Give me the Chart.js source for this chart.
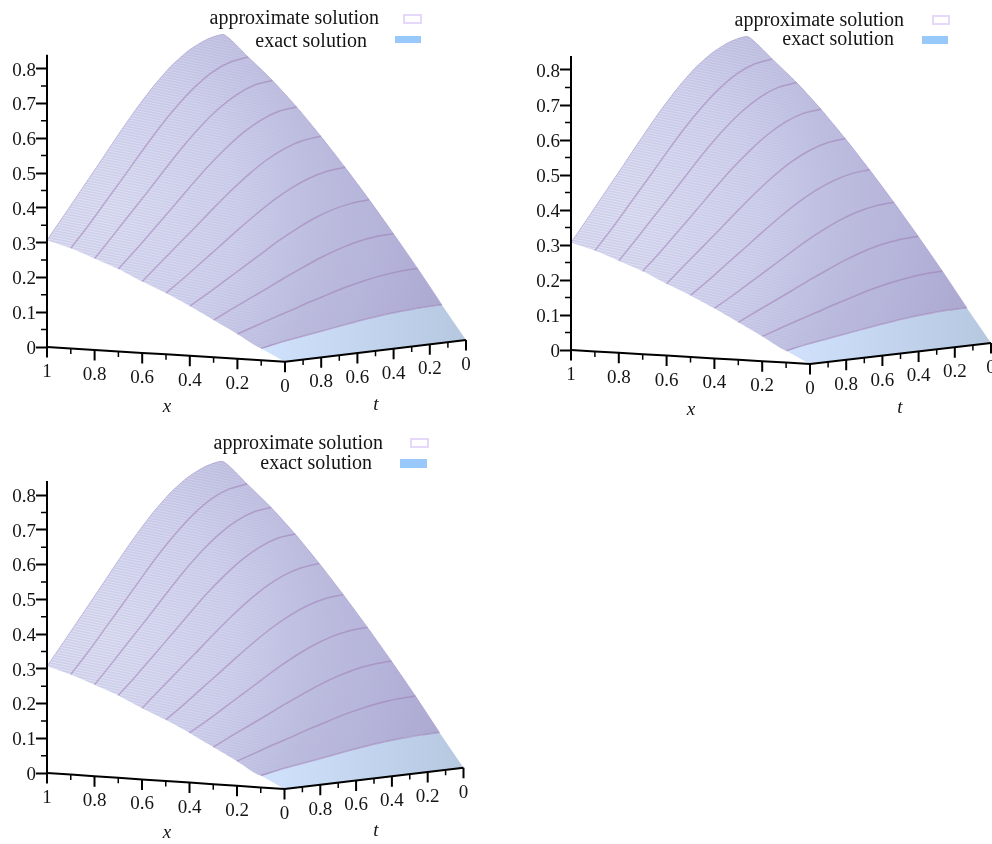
<!DOCTYPE html>
<html>
<head>
<meta charset="utf-8">
<script src="https://cdn.jsdelivr.net/npm/chart.js@4"></script>
<style>
    html, body { margin: 0; padding: 0; background: #fff; overflow: hidden; width: 992px; height: 844px; }
    canvas { position: absolute; }
</style>
</head>
<body>
<script>
// one list per x line, t = 0 ... 1
const tGrid = [0, 0.1, 0.2, 0.3, 0.4, 0.5, 0.6, 0.7, 0.8, 0.9, 1];
const xGrid = [1, 0.9, 0.8, 0.7, 0.6, 0.5, 0.4, 0.3, 0.2, 0.1, 0];
const uX10 = [0.835, 0.827, 0.802, 0.763, 0.711, 0.650, 0.583, 0.513, 0.444, 0.375, 0.307];
const uX09 = [0.775, 0.767, 0.745, 0.708, 0.660, 0.604, 0.541, 0.476, 0.412, 0.348, 0.288];
const uX08 = [0.712, 0.705, 0.684, 0.651, 0.607, 0.555, 0.497, 0.437, 0.379, 0.320, 0.263];
const uX07 = [0.640, 0.634, 0.615, 0.585, 0.545, 0.499, 0.447, 0.393, 0.340, 0.287, 0.237];
const uX06 = [0.560, 0.554, 0.538, 0.512, 0.477, 0.436, 0.391, 0.344, 0.298, 0.252, 0.205];
const uX05 = [0.475, 0.470, 0.456, 0.434, 0.405, 0.370, 0.332, 0.292, 0.253, 0.213, 0.176];
const uX04 = [0.386, 0.382, 0.371, 0.353, 0.329, 0.301, 0.269, 0.237, 0.205, 0.173, 0.143];
const uX03 = [0.293, 0.290, 0.282, 0.268, 0.250, 0.228, 0.205, 0.180, 0.156, 0.132, 0.107];
const uX02 = [0.197, 0.195, 0.189, 0.180, 0.168, 0.153, 0.138, 0.121, 0.105, 0.088, 0.071];
const uX01 = [0.097, 0.096, 0.093, 0.089, 0.083, 0.076, 0.068, 0.060, 0.052, 0.044, 0.034];
const uX00 = [0, 0, 0, 0, 0, 0, 0, 0, 0, 0, 0];
const uLines = [uX10, uX09, uX08, uX07, uX06, uX05, uX04, uX03, uX02, uX01, uX00];

const uTicks = [0, 0.1, 0.2, 0.3, 0.4, 0.5, 0.6, 0.7, 0.8];
const uMinorTicks = [0.05, 0.15, 0.25, 0.35, 0.45, 0.55, 0.65, 0.75];
const uAxisTop = 0.84;
const xMajorTicks = [1, 0.8, 0.6, 0.4, 0.2, 0];
const xMinorTicks = [0.9, 0.7, 0.5, 0.3, 0.1];
const tMajorTicks = [0.8, 0.6, 0.4, 0.2, 0];
const tMinorTicks = [0.9, 0.7, 0.5, 0.3, 0.1];

const legendNames = ["approximate solution", "exact solution"];

const serif = '"Liberation Serif", "Times New Roman", serif';
const axisLeft = 47;

// view of each plot: canvas box and how many px one unit covers
const panels = [
    {
        left: 0, top: 0, width: 490, height: 425,
        zeroY: 347, uPx: 348, xPx: 238, tPx: 181, tSkew: 4, xDrop: 14.7, tRise: 21.7,
        legend: [
            {right: 379, y: 19, box: [404, 15, 17, 8]},
            {right: 367, y: 42, box: [395, 36, 26, 7]}
        ]
    },
    {
        left: 524, top: 0, width: 490, height: 425,
        zeroY: 350, uPx: 350, xPx: 239, tPx: 181, tSkew: 4, xDrop: 14, tRise: 21,
        legend: [
            {right: 904, y: 21, box: [933, 16, 16, 8]},
            {right: 894, y: 40, box: [922, 36, 26, 8]}
        ]
    },
    {
        left: 0, top: 425, width: 490, height: 419,
        zeroY: 348, uPx: 347.5, xPx: 237.5, tPx: 179, tSkew: 3, xDrop: 16, tRise: 21.3,
        legend: [
            {right: 383, y: 444, box: [411, 439, 17, 8]},
            {right: 372, y: 464, box: [400, 459, 27, 9]}
        ]
    }
];

// oblique view, x and t go to the screen, u stays on the value axis
function project(p, x, t, u) {
    return {
        x: (1 - x) * p.xPx + (1 - t) * (p.tPx - x * p.tSkew),
        y: u + (-(1 - x) * p.xDrop + (1 - t) * p.tRise) / p.uPx
    };
}

function xLine(p, i) {
    return tGrid.map((t, j) => project(p, xGrid[i], t, uLines[i][j]));
}

function tLine(p, j, from, to) {
    const out = [];
    for (let i = from; i <= to; i++) out.push(project(p, xGrid[i], tGrid[j], uLines[i][j]));
    return out;
}

function tickMarks(p, list, pointOf, len) {
    const out = [];
    list.forEach(v => {
        const a = pointOf(v);
        out.push(a, {x: a.x, y: a.y - len / p.uPx}, {x: null, y: null});
    });
    return out;
}

function lineSet(data, color, width, tension) {
    return {
        data: data, showLine: true, fill: false, borderColor: color, borderWidth: width,
        pointRadius: 0, tension: tension || 0, clip: false
    };
}

function fillSet(data, color, edge, tension) {
    return {
        data: data, showLine: true, fill: '+1', backgroundColor: color,
        borderColor: edge || 'rgba(0,0,0,0)', borderWidth: edge ? 1 : 0, pointRadius: 0,
        tension: tension
    };
}

function makeHatch(w, h) {
    const c = document.createElement('canvas');
    c.width = w;
    c.height = h;
    const g = c.getContext('2d');
    g.strokeStyle = 'rgba(255,255,255,0.42)';
    g.lineWidth = 1;
    for (let y = -200; y < h; y += 2.7) {
        g.beginPath();
        g.moveTo(0, y);
        g.lineTo(w, y + w * 0.2);
        g.stroke();
    }
    g.globalCompositeOperation = 'destination-in';
    const mask = g.createLinearGradient(axisLeft, 0, 300, 0);
    mask.addColorStop(0, 'rgba(0,0,0,1)');
    mask.addColorStop(0.55, 'rgba(0,0,0,0.55)');
    mask.addColorStop(1, 'rgba(0,0,0,0)');
    g.fillStyle = mask;
    g.fillRect(0, 0, w, h);
    return c;
}

const textPlugin = {
    id: 'plotText',
    afterDraw(chart, args, opts) {
        const p = opts.panel;
        const ctx = chart.ctx;
        const sx = chart.scales.x, sy = chart.scales.y;
        ctx.save();
        ctx.fillStyle = '#151515';
        ctx.font = '19px ' + serif;
        ctx.textAlign = 'center';
        ctx.textBaseline = 'middle';
        xMajorTicks.forEach(v => {
            const a = project(p, v, 1, 0);
            ctx.fillText(String(v), sx.getPixelForValue(a.x), sy.getPixelForValue(a.y) + 25);
        });
        tMajorTicks.forEach(v => {
            const a = project(p, 0, v, 0);
            ctx.fillText(String(v), sx.getPixelForValue(a.x), sy.getPixelForValue(a.y) + 25);
        });
        ctx.font = 'italic 19px ' + serif;
        ctx.fillText('x', axisLeft + 120, p.zeroY + 60);
        ctx.fillText('t', axisLeft + 329, p.zeroY + 58);

        ctx.font = '20px ' + serif;
        ctx.textAlign = 'right';
        p.legend.forEach((row, i) => {
            ctx.fillStyle = '#151515';
            ctx.fillText(legendNames[i], row.right - p.left, row.y - p.top);
            const b = row.box;
            if (i === 0) {
                ctx.strokeStyle = '#e6d8f8';
                ctx.lineWidth = 2;
                ctx.strokeRect(b[0] - p.left, b[1] - p.top, b[2], b[3]);
            } else {
                ctx.fillStyle = '#99c9fb';
                ctx.fillRect(b[0] - p.left, b[1] - p.top, b[2], b[3]);
            }
        });
        ctx.restore();
    }
};

panels.forEach(p => {
    const canvas = document.createElement('canvas');
    canvas.width = p.width;
    canvas.height = p.height;
    canvas.style.left = p.left + 'px';
    canvas.style.top = p.top + 'px';
    document.body.appendChild(canvas);
    const ctx = canvas.getContext('2d');

    // lit from the left, darker toward the peak and the far corner
    const cx = axisLeft + 63, cy = p.zeroY - 137;
    const purple = ctx.createRadialGradient(cx, cy, 0, cx, cy, 340);
    purple.addColorStop(0, '#d0d2ec');
    purple.addColorStop(0.38, '#c8c9e8');
    purple.addColorStop(0.62, '#bcbcdf');
    purple.addColorStop(1, '#adaad2');

    const blue = ctx.createLinearGradient(265, 0, 466, 0);
    blue.addColorStop(0, '#d0e1fc');
    blue.addColorStop(1, '#b6c8e0');

    const hatch = ctx.createPattern(makeHatch(p.width, p.height), 'no-repeat');

    const surfaceTop = tGrid.map((t, j) => project(p, 1, tGrid[10 - j], uX10[10 - j]))
        .concat(tLine(p, 0, 1, 9));
    const surfaceLow = tLine(p, 10, 0, 9).concat(xLine(p, 9).reverse().slice(1));
    const bandTop = xLine(p, 9).reverse().concat(tLine(p, 0, 10, 10));
    const bandLow = tLine(p, 10, 9, 10).concat(xLine(p, 10).reverse().slice(1));

    const xAxisLine = xGrid.map(x => project(p, x, 1, 0)).concat(project(p, 0, 0, 0));
    const uAxisLine = [{x: 0, y: 0}, {x: 0, y: uAxisTop}];
    const uMinor = [];
    uMinorTicks.forEach(v => uMinor.push({x: -6, y: v}, {x: 0, y: v}, {x: null, y: null}));

    const datasets = [
        lineSet(xAxisLine, '#000', 2),
        lineSet(uAxisLine, '#000', 2),
        lineSet(uMinor, '#000', 1.5),
        lineSet(tickMarks(p, xMajorTicks, v => project(p, v, 1, 0), 10.5), '#000', 2),
        lineSet(tickMarks(p, xMinorTicks, v => project(p, v, 1, 0), 5.5), '#000', 1.5),
        lineSet(tickMarks(p, tMajorTicks, v => project(p, 0, v, 0), 10.5), '#000', 2),
        lineSet(tickMarks(p, tMinorTicks, v => project(p, 0, v, 0), 5.5), '#000', 1.5)
    ];
    for (let i = 1; i <= 9; i++) {
        datasets.push(lineSet(xLine(p, i), 'rgba(155,120,175,0.5)', 1.5, 0.3));
    }
    datasets.push(
        fillSet(surfaceTop, hatch, null, 0.2),
        fillSet(surfaceLow, 'rgba(0,0,0,0)', null, 0.2),
        fillSet(surfaceTop, purple, 'rgba(170,155,205,0.7)', 0.2),
        fillSet(surfaceLow, 'rgba(0,0,0,0)', null, 0.2),
        fillSet(bandTop, blue, null, 0),
        lineSet(bandLow, 'rgba(0,0,0,0)', 0, 0)
    );
    // the two hidden lower edges must not fill on their own
    datasets[datasets.length - 3].fill = false;
    datasets[datasets.length - 5].fill = false;

    const chart = new Chart(ctx, {
        type: 'scatter',
        data: {datasets: datasets},
        plugins: [textPlugin],
        options: {
            responsive: false,
            maintainAspectRatio: false,
            animation: false,
            layout: {autoPadding: false, padding: 0},
            plugins: {legend: {display: false}, tooltip: {enabled: false}, plotText: {panel: p}},
            scales: {
                x: {type: 'linear', display: false, min: 0, max: p.width - axisLeft},
                y: {
                    type: 'linear',
                    min: (p.zeroY - p.height) / p.uPx,
                    max: p.zeroY / p.uPx,
                    afterBuildTicks: scale => { scale.ticks = uTicks.map(v => ({value: v})); },
                    afterFit: scale => { scale.width = axisLeft; },
                    border: {display: false},
                    grid: {drawOnChartArea: false, drawTicks: true, tickLength: 11, tickWidth: 2, tickColor: '#000'},
                    ticks: {
                        autoSkip: false,
                        padding: 0,
                        labelOffset: 2,
                        color: '#151515',
                        font: {family: serif, size: 19},
                        callback: v => v === 0 ? '0' : v.toFixed(1)
                    }
                }
            }
        }
    });

    // the labels eat into the plot box, so pin u = 0 to its place afterwards
    const area = chart.chartArea;
    chart.options.scales.y.max = (p.zeroY - area.top) / p.uPx;
    chart.options.scales.y.min = (p.zeroY - area.bottom) / p.uPx;
    chart.options.scales.x.max = area.right - area.left;
    chart.update('none');
});
</script>
</body>
</html>
